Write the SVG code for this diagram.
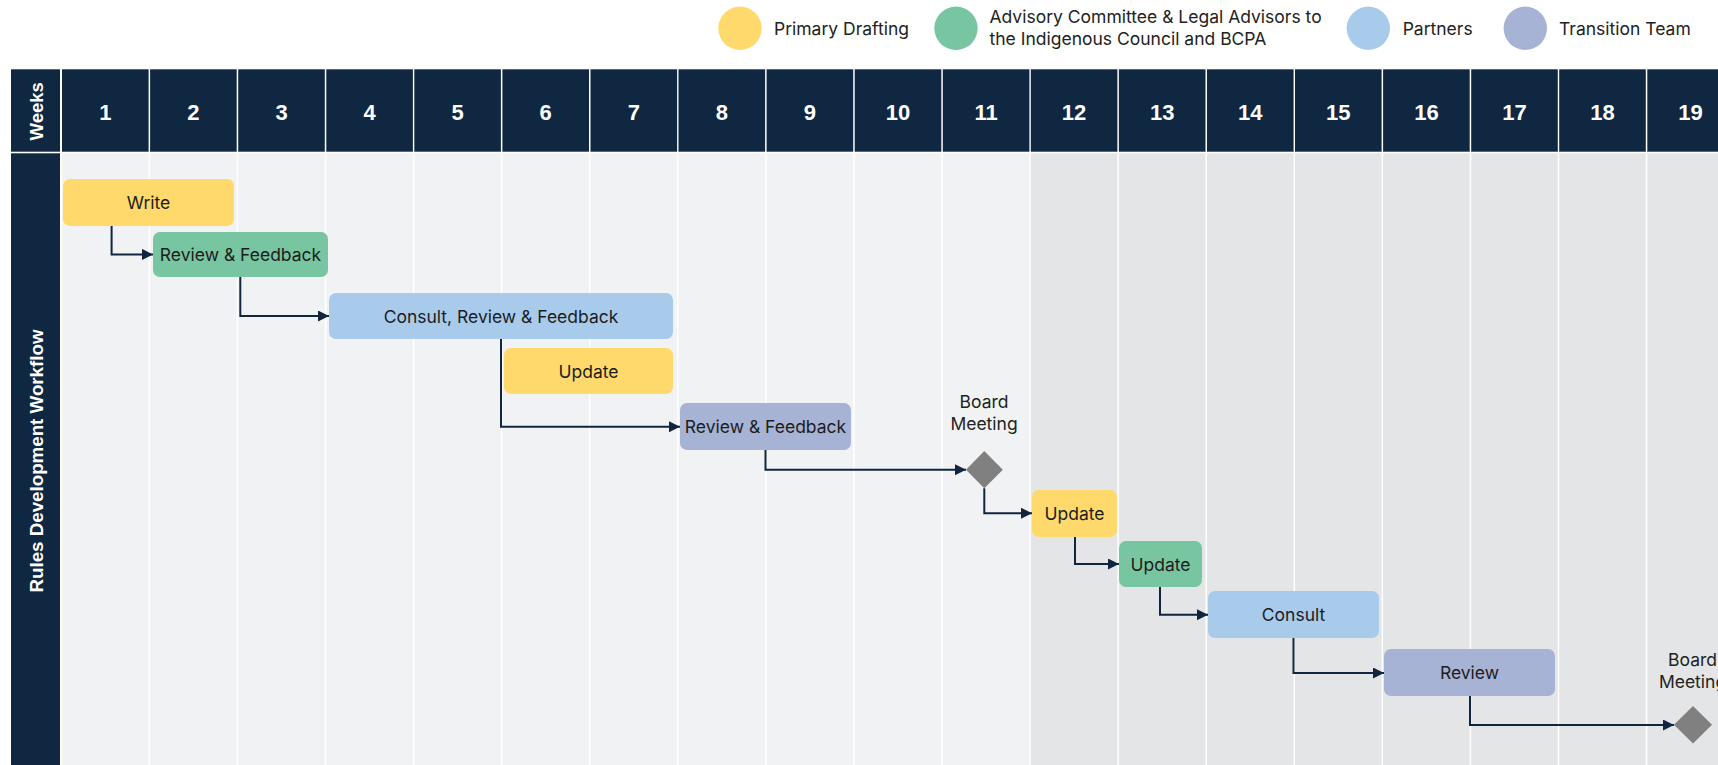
<svg xmlns="http://www.w3.org/2000/svg" width="1718" height="765" viewBox="0 0 1718 765">
<defs>
<style>
.hdr{fill:#0f2741}
.lt{fill:#f1f2f4}
.dk{fill:#e4e5e7}
.num{font-family:"Liberation Sans",Arial,sans-serif;font-weight:bold;font-size:22px;fill:#ffffff;text-anchor:middle}
.vt{font-family:"Liberation Sans",Arial,sans-serif;font-weight:bold;fill:#ffffff;text-anchor:middle}
.lg{font-family:Inter,"Noto Sans",sans-serif;font-size:17.5px;fill:#222222}
.nt{font-family:Inter,"Noto Sans",sans-serif;font-size:17.5px;fill:#1c1c1c;text-anchor:middle;dominant-baseline:central}
.bm{font-family:Inter,"Noto Sans",sans-serif;font-size:17.5px;fill:#222222;text-anchor:middle}
.y{fill:#ffd96b}
.g{fill:#78c5a1}
.b{fill:#a8cbec}
.p{fill:#a7b3d4}
.dia{fill:#808080}
.con{fill:none;stroke:#10263f;stroke-width:2;marker-end:url(#arr)}
</style>
<marker id="arr" markerUnits="userSpaceOnUse" markerWidth="12" markerHeight="12" refX="11" refY="5.5" orient="auto">
<path d="M0,0 L11,5.5 L0,11 Z" fill="#10263f"/>
</marker>
</defs>
<rect x="0" y="0" width="1718" height="765" fill="#ffffff"/>

<g id="legend">
<circle cx="740" cy="28.3" r="21.7" class="y"/>
<text x="774" y="35" class="lg">Primary Drafting</text>
<circle cx="956" cy="28.3" r="21.7" class="g"/>
<text x="989.5" y="22.5" class="lg">Advisory Committee &amp; Legal Advisors to</text>
<text x="989.5" y="45" class="lg">the Indigenous Council and BCPA</text>
<circle cx="1368.3" cy="28.3" r="21.7" class="b"/>
<text x="1402.7" y="35" class="lg">Partners</text>
<circle cx="1525.3" cy="28.3" r="21.7" class="p"/>
<text x="1559" y="35" class="lg">Transition Team</text>
</g>

<g id="header">
<rect x="11" y="69.3" width="49" height="82.4" class="hdr"/>
<text class="vt" font-size="18.5" transform="translate(42.5,111.3) rotate(-90)">Weeks</text>
<rect x="62" y="69.3" width="86.6" height="82.4" class="hdr"/>
<rect x="150.1" y="69.3" width="86.6" height="82.4" class="hdr"/>
<rect x="238.2" y="69.3" width="86.6" height="82.4" class="hdr"/>
<rect x="326.3" y="69.3" width="86.6" height="82.4" class="hdr"/>
<rect x="414.3" y="69.3" width="86.6" height="82.4" class="hdr"/>
<rect x="502.4" y="69.3" width="86.6" height="82.4" class="hdr"/>
<rect x="590.5" y="69.3" width="86.6" height="82.4" class="hdr"/>
<rect x="678.5" y="69.3" width="86.6" height="82.4" class="hdr"/>
<rect x="766.6" y="69.3" width="86.6" height="82.4" class="hdr"/>
<rect x="854.7" y="69.3" width="86.6" height="82.4" class="hdr"/>
<rect x="942.8" y="69.3" width="86.6" height="82.4" class="hdr"/>
<rect x="1030.8" y="69.3" width="86.6" height="82.4" class="hdr"/>
<rect x="1118.9" y="69.3" width="86.6" height="82.4" class="hdr"/>
<rect x="1207" y="69.3" width="86.6" height="82.4" class="hdr"/>
<rect x="1295" y="69.3" width="86.6" height="82.4" class="hdr"/>
<rect x="1383.1" y="69.3" width="86.6" height="82.4" class="hdr"/>
<rect x="1471.2" y="69.3" width="86.6" height="82.4" class="hdr"/>
<rect x="1559.2" y="69.3" width="86.6" height="82.4" class="hdr"/>
<rect x="1647.3" y="69.3" width="86.6" height="82.4" class="hdr"/>
<text x="105.3" y="120" class="num">1</text>
<text x="193.4" y="120" class="num">2</text>
<text x="281.5" y="120" class="num">3</text>
<text x="369.6" y="120" class="num">4</text>
<text x="457.6" y="120" class="num">5</text>
<text x="545.7" y="120" class="num">6</text>
<text x="633.8" y="120" class="num">7</text>
<text x="721.8" y="120" class="num">8</text>
<text x="809.9" y="120" class="num">9</text>
<text x="898" y="120" class="num">10</text>
<text x="986.1" y="120" class="num">11</text>
<text x="1074.1" y="120" class="num">12</text>
<text x="1162.2" y="120" class="num">13</text>
<text x="1250.3" y="120" class="num">14</text>
<text x="1338.3" y="120" class="num">15</text>
<text x="1426.4" y="120" class="num">16</text>
<text x="1514.5" y="120" class="num">17</text>
<text x="1602.5" y="120" class="num">18</text>
<text x="1690.6" y="120" class="num">19</text>
</g>

<g id="body">
<rect x="11" y="153.3" width="49" height="612" class="hdr"/>
<text class="vt" font-size="18" textLength="263" lengthAdjust="spacingAndGlyphs" transform="translate(43,461) rotate(-90)">Rules Development Workflow</text>
<rect x="62" y="153.3" width="86.6" height="612" class="lt"/>
<rect x="150.1" y="153.3" width="86.6" height="612" class="lt"/>
<rect x="238.2" y="153.3" width="86.6" height="612" class="lt"/>
<rect x="326.3" y="153.3" width="86.6" height="612" class="lt"/>
<rect x="414.3" y="153.3" width="86.6" height="612" class="lt"/>
<rect x="502.4" y="153.3" width="86.6" height="612" class="lt"/>
<rect x="590.5" y="153.3" width="86.6" height="612" class="lt"/>
<rect x="678.5" y="153.3" width="86.6" height="612" class="lt"/>
<rect x="766.6" y="153.3" width="86.6" height="612" class="lt"/>
<rect x="854.7" y="153.3" width="86.6" height="612" class="lt"/>
<rect x="942.8" y="153.3" width="86.6" height="612" class="lt"/>
<rect x="1030.8" y="153.3" width="86.6" height="612" class="dk"/>
<rect x="1118.9" y="153.3" width="86.6" height="612" class="dk"/>
<rect x="1207" y="153.3" width="86.6" height="612" class="dk"/>
<rect x="1295" y="153.3" width="86.6" height="612" class="dk"/>
<rect x="1383.1" y="153.3" width="86.6" height="612" class="dk"/>
<rect x="1471.2" y="153.3" width="86.6" height="612" class="dk"/>
<rect x="1559.2" y="153.3" width="86.6" height="612" class="dk"/>
<rect x="1647.3" y="153.3" width="86.6" height="612" class="dk"/>
</g>

<g id="connectors">
<path d="M111.6,226 V254.4 H153" class="con"/>
<path d="M240.3,277 V316 H329" class="con"/>
<path d="M501,339 V426.7 H680" class="con"/>
<path d="M765.5,450 V469.7 H966" class="con"/>
<path d="M984.3,488.3 V513.2 H1032" class="con"/>
<path d="M1075,537 V564 H1119" class="con"/>
<path d="M1160,587 V614.7 H1208" class="con"/>
<path d="M1293.5,638 V673 H1384" class="con"/>
<path d="M1470,696 V725 H1674" class="con"/>
</g>

<g id="n1"><rect x="63" y="179" width="171" height="47" rx="7" class="y"/><text x="148.5" y="202.5" class="nt">Write</text></g>
<g id="n2"><rect x="153" y="232" width="175" height="45" rx="7" class="g"/><text x="240.5" y="254.5" class="nt">Review &amp; Feedback</text></g>
<g id="n3"><rect x="329" y="293" width="344" height="46" rx="7" class="b"/><text x="501" y="316" class="nt">Consult, Review &amp; Feedback</text></g>
<g id="n4"><rect x="504" y="348" width="169" height="46" rx="7" class="y"/><text x="588.5" y="371" class="nt">Update</text></g>
<g id="n5"><rect x="680" y="403" width="171" height="47" rx="7" class="p"/><text x="765.5" y="426.5" class="nt">Review &amp; Feedback</text></g>
<g id="n6"><text x="984" y="407.7" class="bm">Board</text><text x="984" y="430" class="bm">Meeting</text><path d="M984.3,451 L1002.8,469.7 L984.3,488.3 L966,469.7 Z" class="dia"/></g>
<g id="n7"><rect x="1032" y="490" width="85" height="47" rx="7" class="y"/><text x="1074.5" y="513.5" class="nt">Update</text></g>
<g id="n8"><rect x="1119" y="541" width="83" height="46" rx="7" class="g"/><text x="1160.5" y="564" class="nt">Update</text></g>
<g id="n9"><rect x="1208" y="591" width="171" height="47" rx="7" class="b"/><text x="1293.5" y="614.5" class="nt">Consult</text></g>
<g id="n10"><rect x="1384" y="649" width="171" height="47" rx="7" class="p"/><text x="1469.5" y="672.5" class="nt">Review</text></g>
<g id="n11"><text x="1692.5" y="666" class="bm">Board</text><text x="1692.5" y="688.3" class="bm">Meeting</text><path d="M1693,706 L1712,724.8 L1693,743.5 L1674,724.8 Z" class="dia"/></g>
</svg>
